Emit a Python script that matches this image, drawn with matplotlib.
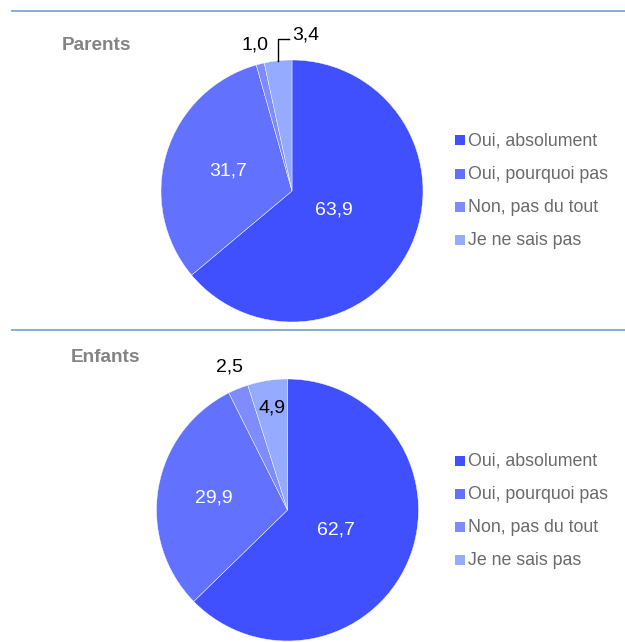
import numpy as np
import matplotlib
matplotlib.use('Agg')
import matplotlib.pyplot as plt
from matplotlib.patches import Rectangle
from matplotlib.lines import Line2D

W, H = 625, 642

categories = ['Oui, absolument', 'Oui, pourquoi pas', 'Non, pas du tout', 'Je ne sais pas']
parents = [63.9, 31.7, 1.0, 3.4]
enfants = [62.7, 29.9, 2.5, 4.9]
colors = ['#4150ff', '#6272ff', '#7e8cff', '#94abff']

plt.rcParams['font.family'] = ['Liberation Sans', 'DejaVu Sans']
LABEL_FS = 14


def px_axes(fig, cx, cy, r, pad=1.45):
    s = r * pad
    ax = fig.add_axes([(cx - s) / W, 1 - (cy + s) / H, 2 * s / W, 2 * s / H])
    ax.axis('off')
    return ax


def mid_angles(vals):
    total = sum(vals)
    out = []
    start = 90.0
    for v in vals:
        span = v / total * 360
        out.append(np.radians(start - span / 2))
        start -= span
    return out


def draw_block(fig, title, vals, cx, cy, r, label_style, title_xy, leg_y0, line_y):
    # separator line
    fig.add_artist(Line2D([12 / W, 1], [1 - line_y / H] * 2, color='#7ba7d9', lw=1.3))
    fig.text(title_xy[0] / W, 1 - title_xy[1] / H, title, fontsize=13.7, fontweight='bold',
             color='#848484', ha='left', va='center')

    ax = px_axes(fig, cx, cy, r)
    ax.pie(vals, colors=colors, startangle=90, counterclock=False, radius=1,
           wedgeprops=dict(linewidth=0.3, edgecolor='white'))
    ax.set_xlim(-1.45, 1.45)
    ax.set_ylim(-1.45, 1.45)
    ax.set_aspect('equal')

    for v, a, (rad, col, leader) in zip(vals, mid_angles(vals), label_style):
        txt = f"{v:.1f}".replace('.', ',')
        if leader:
            x0, y0 = np.cos(a), np.sin(a)
            ax.plot([x0, x0, x0 + 0.08], [y0, rad, rad], color='black', lw=1)
            ax.text(x0 + 0.11, rad + 0.03, txt, fontsize=LABEL_FS, color=col, ha='left', va='center')
        else:
            ax.text(rad * np.cos(a), rad * np.sin(a), txt, fontsize=LABEL_FS, color=col,
                    ha='center', va='center')

    for i, (lab, c) in enumerate(zip(categories, colors)):
        y = leg_y0 + i * 33.3
        fig.add_artist(Rectangle((455 / W, 1 - (y + 4.5) / H), 10 / W, 10 / H,
                                 facecolor=c, edgecolor='none', transform=fig.transFigure))
        fig.text(468 / W, 1 - y / H, lab, fontsize=12.8, color='#6a6a6a', ha='left', va='center')


fig = plt.figure(figsize=(W / 100, H / 100), dpi=100)
fig.patch.set_facecolor('white')

draw_block(fig, 'Parents', parents, 292, 191, 131,
           [(0.35, 'white', False), (0.51, 'white', False), (1.15, 'black', False), (1.16, 'black', True)],
           (62, 45), 141, 11)
draw_block(fig, 'Enfants', enfants, 287.5, 510, 131,
           [(0.40, 'white', False), (0.57, 'white', False), (1.18, 'black', False), (0.79, 'black', False)],
           (71, 357), 461, 330)

fig.savefig('out.png', dpi=100)
